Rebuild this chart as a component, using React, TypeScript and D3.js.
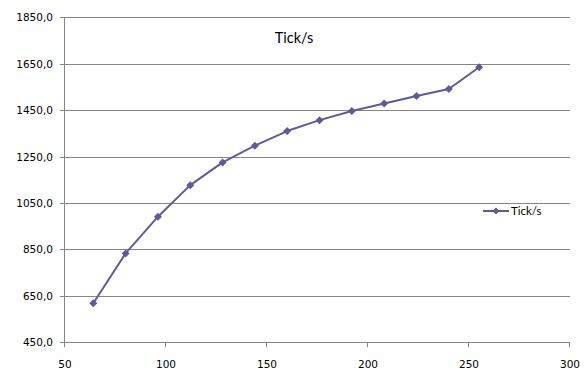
import React from "react";
import * as d3 from "d3";

const xValues = [64, 80, 96, 112, 128, 144, 160, 176, 192, 208, 224, 240, 255];
const tickRate = [618, 833, 991, 1127, 1225, 1297, 1360, 1407, 1446, 1479, 1511, 1541, 1635];
const yTicks = [450, 650, 850, 1050, 1250, 1450, 1650, 1850];
const xTicks = [50, 100, 150, 200, 250, 300];
const seriesName = "Tick/s";
const title = "Tick/s";

const W = 585;
const H = 386;
const left = 65;
const right = 570;
const top = 17.3;
const bottom = 342.3;
const lineColor = "#5E5C96";
const gridColor = "#868686";
const font = "'DejaVu Sans', Verdana, sans-serif";

export default function App() {
  const x = d3.scaleLinear().domain([50, 300]).range([left, right]);
  const y = d3.scaleLinear().domain([450, 1850]).range([bottom, top]);
  const pts = xValues.map((v, i) => [x(v), y(tickRate[i])] as [number, number]);
  const line = d3.line()(pts) || "";
  const diamond = (cx: number, cy: number, r = 4) =>
    `M${cx},${cy - r}L${cx + r},${cy}L${cx},${cy + r}L${cx - r},${cy}Z`;
  const fmt = (v: number) => v.toFixed(1).replace(".", ",");
  const lx0 = 483, lx1 = 509, ly = 211;

  return (
    <svg width={W} height={H} style={{ position: "absolute", left: 0, top: 0 }}>
      <rect x={0} y={0} width={W} height={H} fill="#fff" />
      {yTicks.map((t) => (
        <g key={t}>
          <line x1={left} x2={right} y1={Math.round(y(t)) + 0.5} y2={Math.round(y(t)) + 0.5} stroke={gridColor} strokeWidth={1} />
          <line x1={left - 5} x2={left} y1={Math.round(y(t)) + 0.5} y2={Math.round(y(t)) + 0.5} stroke={gridColor} strokeWidth={1} />
          <text x={53} y={y(t) + 4} textAnchor="end" fontFamily={font} fontSize={10.5} fill="#000">
            {fmt(t)}
          </text>
        </g>
      ))}
      <line x1={left - 0.5} x2={left - 0.5} y1={top} y2={bottom + 0.5} stroke={gridColor} strokeWidth={1} />
      {xTicks.map((t) => (
        <g key={t}>
          <line x1={Math.round(x(t)) - 0.5} x2={Math.round(x(t)) - 0.5} y1={bottom} y2={bottom + 5} stroke={gridColor} strokeWidth={1} />
          <text x={x(t)} y={368} textAnchor="middle" fontFamily={font} fontSize={10.5} fill="#000">
            {t}
          </text>
        </g>
      ))}
      <path d={line} fill="none" stroke={lineColor} strokeWidth={2} strokeLinejoin="round" />
      {pts.map(([cx, cy], i) => (
        <path key={i} d={diamond(cx, cy)} fill={lineColor} />
      ))}
      <text x={294} y={43} textAnchor="middle" fontFamily="Lato, 'Open Sans', sans-serif" fontSize={14.5} fill="#000">
        {title}
      </text>
      <line x1={lx0} x2={lx1} y1={ly} y2={ly} stroke={lineColor} strokeWidth={2} />
      <path d={diamond((lx0 + lx1) / 2, ly, 3.5)} fill={lineColor} />
      <text x={511} y={ly + 4} fontFamily="Lato, 'Open Sans', sans-serif" fontSize={11.5} fill="#000">
        {seriesName}
      </text>
    </svg>
  );
}
